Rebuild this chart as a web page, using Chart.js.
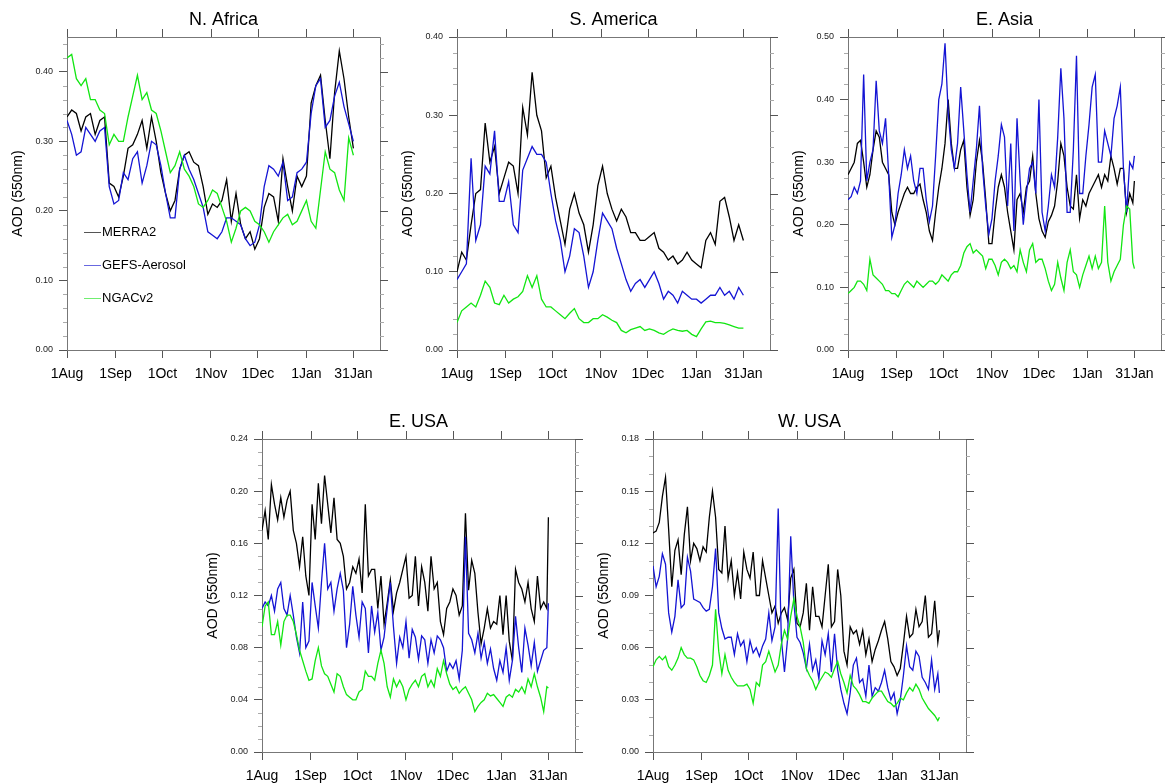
<!DOCTYPE html>
<html>
<head>
<meta charset="utf-8">
<script src="https://cdn.jsdelivr.net/npm/chart.js@4.4.1/dist/chart.umd.min.js"></script>
<style>
  html, body { margin: 0; padding: 0; background: #fff; overflow: hidden; }
  body { width: 1165px; height: 784px; position: relative; }
  canvas { position: absolute; }
</style>
</head>
<body>
<canvas id="naf" width="400" height="390" style="left:0px;top:0px"></canvas>
<canvas id="sam" width="400" height="390" style="left:390px;top:0px"></canvas>
<canvas id="eas" width="384" height="390" style="left:781px;top:0px"></canvas>
<canvas id="eus" width="400" height="382" style="left:195px;top:402px"></canvas>
<canvas id="wus" width="400" height="382" style="left:586px;top:402px"></canvas>
<script>
// x positions are days since 1 Aug
const days3 = [];
for (let d = 0; d <= 183; d += 3) days3.push(d);
const days2 = [];
for (let d = 0; d <= 182; d += 2) days2.push(d);
days2.push(183);

const monthDays = [0, 31, 61, 92, 122, 153, 183];
const monthLabels = ['1Aug', '1Sep', '1Oct', '1Nov', '1Dec', '1Jan', '31Jan'];
const seriesNames = ['MERRA2', 'GEFS-Aerosol', 'NGACv2'];
const seriesColors = ['#000000', '#1414d4', '#12e612'];
const legendColors = ['#555555', '#6868e0', '#70ee70'];

// N. Africa (every 3 days)
const nafMerra = [0.335, 0.345, 0.34, 0.315, 0.335, 0.34, 0.31, 0.33, 0.335, 0.24,
  0.235, 0.22, 0.25, 0.29, 0.295, 0.31, 0.33, 0.29, 0.335, 0.30,
  0.255, 0.225, 0.20, 0.215, 0.26, 0.28, 0.285, 0.27, 0.265, 0.235,
  0.195, 0.21, 0.205, 0.215, 0.245, 0.185, 0.225, 0.18, 0.16, 0.17,
  0.145, 0.16, 0.205, 0.225, 0.22, 0.185, 0.275, 0.235, 0.20, 0.25,
  0.235, 0.25, 0.355, 0.38, 0.395, 0.33, 0.275, 0.37, 0.43, 0.39,
  0.335, 0.29];
const nafGefs = [0.33, 0.31, 0.28, 0.285, 0.32, 0.31, 0.30, 0.315, 0.32, 0.235,
  0.21, 0.215, 0.255, 0.245, 0.275, 0.285, 0.24, 0.265, 0.30, 0.295,
  0.265, 0.225, 0.19, 0.19, 0.26, 0.28, 0.26, 0.245, 0.225, 0.205,
  0.17, 0.165, 0.16, 0.17, 0.19, 0.19, 0.185, 0.18, 0.16, 0.15,
  0.155, 0.18, 0.235, 0.265, 0.26, 0.25, 0.27, 0.215, 0.22, 0.255,
  0.26, 0.27, 0.34, 0.38, 0.39, 0.32, 0.33, 0.365, 0.385, 0.35,
  0.325, 0.30];
const nafNgac = [0.42, 0.425, 0.39, 0.38, 0.39, 0.36, 0.36, 0.345, 0.34, 0.295,
  0.31, 0.30, 0.30, 0.335, 0.365, 0.395, 0.36, 0.37, 0.345, 0.34,
  0.315, 0.285, 0.255, 0.265, 0.285, 0.26, 0.25, 0.235, 0.21, 0.205,
  0.215, 0.23, 0.225, 0.205, 0.185, 0.155, 0.175, 0.20, 0.205, 0.20,
  0.185, 0.18, 0.17, 0.155, 0.17, 0.18, 0.19, 0.195, 0.18, 0.185,
  0.20, 0.215, 0.185, 0.175, 0.23, 0.285, 0.26, 0.255, 0.23, 0.215,
  0.305, 0.28];

// S. America (every 3 days)
const samMerra = [0.10, 0.125, 0.115, 0.16, 0.20, 0.205, 0.29, 0.24, 0.26, 0.20,
  0.22, 0.24, 0.235, 0.20, 0.31, 0.275, 0.355, 0.30, 0.28, 0.22,
  0.235, 0.195, 0.165, 0.135, 0.18, 0.20, 0.175, 0.16, 0.125, 0.16,
  0.21, 0.235, 0.20, 0.18, 0.165, 0.18, 0.17, 0.15, 0.15, 0.14,
  0.14, 0.145, 0.15, 0.13, 0.125, 0.115, 0.12, 0.11, 0.115, 0.125,
  0.115, 0.11, 0.105, 0.14, 0.15, 0.135, 0.19, 0.195, 0.17, 0.14,
  0.16, 0.14];
const samGefs = [0.09, 0.10, 0.11, 0.245, 0.14, 0.16, 0.235, 0.225, 0.28, 0.19,
  0.19, 0.215, 0.16, 0.15, 0.23, 0.245, 0.26, 0.25, 0.25, 0.24,
  0.20, 0.165, 0.14, 0.10, 0.12, 0.155, 0.15, 0.12, 0.08, 0.10,
  0.14, 0.175, 0.165, 0.155, 0.13, 0.11, 0.09, 0.075, 0.085, 0.09,
  0.08, 0.09, 0.10, 0.085, 0.065, 0.075, 0.07, 0.06, 0.075, 0.07,
  0.065, 0.065, 0.06, 0.065, 0.07, 0.07, 0.08, 0.07, 0.075, 0.065,
  0.08, 0.07];
const samNgac = [0.035, 0.05, 0.055, 0.06, 0.055, 0.07, 0.088, 0.08, 0.06, 0.058,
  0.07, 0.06, 0.065, 0.068, 0.075, 0.095, 0.08, 0.095, 0.065, 0.055,
  0.055, 0.05, 0.045, 0.04, 0.047, 0.053, 0.04, 0.035, 0.035, 0.04,
  0.04, 0.045, 0.042, 0.038, 0.035, 0.025, 0.022, 0.026, 0.028, 0.03,
  0.025, 0.027, 0.025, 0.022, 0.02, 0.024, 0.027, 0.025, 0.024, 0.025,
  0.02, 0.017, 0.027, 0.036, 0.037, 0.035, 0.035, 0.034, 0.032, 0.03,
  0.028, 0.028];

// E. Asia (every 2 days)
const easMerra = [0.28, 0.29, 0.30, 0.33, 0.335, 0.30, 0.26, 0.28, 0.32, 0.35,
  0.34, 0.30, 0.29, 0.28, 0.22, 0.20, 0.22, 0.235, 0.25, 0.26,
  0.25, 0.25, 0.26, 0.265, 0.24, 0.22, 0.19, 0.175, 0.22, 0.26,
  0.29, 0.33, 0.40, 0.33, 0.29, 0.29, 0.32, 0.335, 0.26, 0.215,
  0.24, 0.30, 0.335, 0.30, 0.24, 0.17, 0.17, 0.22, 0.26, 0.28,
  0.26, 0.22, 0.19, 0.16, 0.24, 0.25, 0.22, 0.26, 0.27, 0.31,
  0.25, 0.21, 0.19, 0.18, 0.205, 0.215, 0.23, 0.27, 0.33, 0.31,
  0.26, 0.23, 0.225, 0.28, 0.21, 0.24, 0.23, 0.25, 0.26, 0.27,
  0.28, 0.26, 0.28, 0.27, 0.31, 0.29, 0.265, 0.29, 0.29, 0.22,
  0.25, 0.235, 0.27];
const easGefs = [0.24, 0.245, 0.26, 0.25, 0.27, 0.44, 0.27, 0.30, 0.32, 0.43,
  0.35, 0.33, 0.37, 0.28, 0.18, 0.20, 0.25, 0.28, 0.32, 0.29,
  0.31, 0.27, 0.25, 0.29, 0.29, 0.24, 0.205, 0.23, 0.31, 0.40,
  0.425, 0.49, 0.38, 0.32, 0.29, 0.33, 0.42, 0.35, 0.28, 0.22,
  0.27, 0.32, 0.39, 0.29, 0.23, 0.185, 0.21, 0.27, 0.31, 0.36,
  0.34, 0.23, 0.33, 0.19, 0.37, 0.27, 0.20, 0.25, 0.29, 0.30,
  0.25, 0.40, 0.22, 0.19, 0.23, 0.28, 0.26, 0.34, 0.45, 0.37,
  0.22, 0.22, 0.32, 0.47, 0.25, 0.25, 0.31, 0.36, 0.42, 0.44,
  0.30, 0.30, 0.35, 0.33, 0.31, 0.37, 0.39, 0.42, 0.29, 0.22,
  0.30, 0.29, 0.31];
const easNgac = [0.09, 0.095, 0.10, 0.11, 0.11, 0.105, 0.095, 0.145, 0.12, 0.115,
  0.11, 0.105, 0.095, 0.095, 0.09, 0.09, 0.085, 0.095, 0.105, 0.11,
  0.105, 0.10, 0.11, 0.105, 0.10, 0.105, 0.11, 0.11, 0.105, 0.11,
  0.12, 0.115, 0.11, 0.12, 0.125, 0.125, 0.135, 0.155, 0.165, 0.17,
  0.155, 0.16, 0.155, 0.15, 0.13, 0.145, 0.145, 0.135, 0.12, 0.14,
  0.145, 0.14, 0.13, 0.135, 0.125, 0.16, 0.14, 0.125, 0.16, 0.17,
  0.14, 0.145, 0.145, 0.13, 0.11, 0.095, 0.105, 0.14, 0.115, 0.095,
  0.14, 0.16, 0.125, 0.12, 0.10, 0.12, 0.135, 0.15, 0.13, 0.15,
  0.13, 0.14, 0.23, 0.14, 0.11, 0.125, 0.135, 0.145, 0.20, 0.23,
  0.225, 0.14, 0.13];

// E. USA (every 2 days)
const eusMerra = [0.17, 0.185, 0.163, 0.205, 0.19, 0.178, 0.195, 0.18, 0.193, 0.20,
  0.17, 0.16, 0.142, 0.165, 0.135, 0.12, 0.19, 0.163, 0.206, 0.175,
  0.212, 0.19, 0.168, 0.195, 0.163, 0.16, 0.15, 0.125, 0.13, 0.142,
  0.137, 0.148, 0.122, 0.19, 0.135, 0.14, 0.14, 0.11, 0.135, 0.098,
  0.114, 0.132, 0.108, 0.122, 0.13, 0.14, 0.15, 0.118, 0.12, 0.15,
  0.112, 0.142, 0.13, 0.108, 0.15, 0.125, 0.13, 0.10, 0.09, 0.11,
  0.115, 0.125, 0.12, 0.105, 0.112, 0.183, 0.124, 0.147, 0.137, 0.107,
  0.083, 0.095, 0.11, 0.095, 0.10, 0.098, 0.12, 0.09, 0.12, 0.085,
  0.07, 0.14, 0.13, 0.125, 0.115, 0.13, 0.11, 0.10, 0.135, 0.11,
  0.115, 0.11, 0.18];
const eusGefs = [0.11, 0.115, 0.112, 0.12, 0.108, 0.125, 0.13, 0.11, 0.105, 0.12,
  0.105, 0.088, 0.076, 0.115, 0.08, 0.085, 0.13, 0.112, 0.095, 0.13,
  0.16, 0.125, 0.13, 0.108, 0.125, 0.137, 0.124, 0.08, 0.098, 0.127,
  0.105, 0.088, 0.115, 0.11, 0.076, 0.112, 0.092, 0.107, 0.078, 0.088,
  0.11, 0.13, 0.096, 0.068, 0.088, 0.08, 0.10, 0.072, 0.094, 0.088,
  0.071, 0.089, 0.086, 0.068, 0.086, 0.076, 0.089, 0.086, 0.08, 0.062,
  0.068, 0.064, 0.07, 0.056, 0.078, 0.165, 0.091, 0.086, 0.076, 0.091,
  0.072, 0.084, 0.068, 0.079, 0.064, 0.055, 0.07, 0.061, 0.08, 0.055,
  0.07, 0.104, 0.08, 0.061, 0.095, 0.082, 0.066, 0.084, 0.062, 0.07,
  0.078, 0.08, 0.114];
const eusNgac = [0.096, 0.112, 0.115, 0.09, 0.09, 0.10, 0.082, 0.10, 0.105, 0.105,
  0.10, 0.09, 0.078, 0.07, 0.062, 0.055, 0.056, 0.07, 0.08, 0.066,
  0.06, 0.058, 0.052, 0.046, 0.06, 0.058, 0.05, 0.044, 0.042, 0.04,
  0.04, 0.046, 0.048, 0.062, 0.058, 0.058, 0.055, 0.068, 0.078, 0.068,
  0.05, 0.042, 0.056, 0.05, 0.055, 0.05, 0.04, 0.048, 0.052, 0.055,
  0.05, 0.058, 0.06, 0.05, 0.055, 0.05, 0.064, 0.058, 0.07, 0.06,
  0.052, 0.048, 0.05, 0.045, 0.048, 0.05, 0.045, 0.04, 0.031, 0.035,
  0.038, 0.04, 0.045, 0.043, 0.044, 0.041, 0.038, 0.035, 0.042, 0.044,
  0.042, 0.048, 0.046, 0.05, 0.045, 0.056, 0.05, 0.06, 0.05, 0.042,
  0.031, 0.05, 0.049];

// W. USA (every 2 days)
const wusMerra = [0.126, 0.127, 0.132, 0.147, 0.158, 0.128, 0.095, 0.116, 0.122, 0.102,
  0.125, 0.141, 0.11, 0.12, 0.117, 0.11, 0.118, 0.115, 0.135, 0.15,
  0.135, 0.105, 0.103, 0.13, 0.10, 0.11, 0.09, 0.103, 0.088, 0.115,
  0.105, 0.10, 0.115, 0.09, 0.09, 0.11, 0.10, 0.09, 0.08, 0.084,
  0.074, 0.08, 0.083, 0.076, 0.10, 0.105, 0.074, 0.072, 0.08, 0.097,
  0.07, 0.095, 0.078, 0.078, 0.072, 0.09, 0.108, 0.072, 0.075, 0.105,
  0.09, 0.058, 0.05, 0.072, 0.068, 0.07, 0.062, 0.07, 0.056, 0.065,
  0.052, 0.059, 0.064, 0.07, 0.075, 0.065, 0.052, 0.049, 0.044, 0.048,
  0.062, 0.078, 0.066, 0.068, 0.082, 0.072, 0.075, 0.09, 0.066, 0.068,
  0.087, 0.063, 0.07];
const wusGefs = [0.107, 0.095, 0.101, 0.114, 0.108, 0.08, 0.069, 0.078, 0.099, 0.083,
  0.085, 0.112, 0.104, 0.088, 0.087, 0.086, 0.083, 0.081, 0.082, 0.095,
  0.117, 0.08, 0.071, 0.065, 0.066, 0.066, 0.056, 0.068, 0.061, 0.064,
  0.052, 0.064, 0.057, 0.06, 0.055, 0.061, 0.065, 0.08, 0.064, 0.072,
  0.14, 0.065, 0.046, 0.065, 0.124, 0.086, 0.066, 0.063, 0.057, 0.048,
  0.062, 0.047, 0.053, 0.042, 0.064, 0.056, 0.068, 0.046, 0.068, 0.047,
  0.036, 0.028, 0.022, 0.034, 0.05, 0.054, 0.04, 0.042, 0.032, 0.05,
  0.032, 0.037, 0.035, 0.04, 0.047, 0.037, 0.03, 0.034, 0.022, 0.03,
  0.044, 0.061, 0.049, 0.047, 0.058, 0.055, 0.043, 0.04, 0.036, 0.053,
  0.036, 0.045, 0.034];
const wusNgac = [0.049, 0.053, 0.055, 0.053, 0.055, 0.049, 0.047, 0.05, 0.054, 0.06,
  0.056, 0.054, 0.054, 0.053, 0.049, 0.044, 0.041, 0.04, 0.044, 0.05,
  0.082, 0.058, 0.045, 0.056, 0.047, 0.043, 0.04, 0.038, 0.038, 0.038,
  0.039, 0.036, 0.028, 0.04, 0.038, 0.05, 0.052, 0.058, 0.052, 0.046,
  0.05, 0.062, 0.07, 0.065, 0.078, 0.088, 0.078, 0.072, 0.063, 0.048,
  0.044, 0.041, 0.036, 0.04, 0.043, 0.046, 0.045, 0.043, 0.048, 0.052,
  0.045, 0.04, 0.034, 0.044, 0.038, 0.036, 0.033, 0.029, 0.029, 0.028,
  0.031, 0.033, 0.035, 0.035, 0.032, 0.029, 0.028, 0.026, 0.028, 0.031,
  0.03, 0.034, 0.037, 0.035, 0.039, 0.036, 0.031, 0.028, 0.025, 0.023,
  0.021, 0.018, 0.02];

// y tick labels per panel
const nafTicks = [0, 0.1, 0.2, 0.3, 0.4];
const samTicks = [0, 0.1, 0.2, 0.3, 0.4];
const easTicks = [0, 0.1, 0.2, 0.3, 0.4, 0.5];
const eusTicks = [0, 0.04, 0.08, 0.12, 0.16, 0.2, 0.24];
const wusTicks = [0, 0.03, 0.06, 0.09, 0.12, 0.15, 0.18];

const FONT = '"Liberation Sans", Arial, Helvetica, sans-serif';
Chart.defaults.font.family = FONT;

// box on top/right, mirrored major ticks, minor ticks on y
const panelFrame = {
  id: 'panelFrame',
  afterDraw(chart, args, opts) {
    const { ctx, chartArea: a, scales: { x, y } } = chart;
    const px = v => Math.round(v) + 0.5;
    ctx.save();
    ctx.lineWidth = 1;
    ctx.strokeStyle = '#777';
    ctx.beginPath();
    ctx.moveTo(px(a.left), px(a.top));
    ctx.lineTo(px(a.right), px(a.top));
    ctx.lineTo(px(a.right), px(a.bottom));
    ctx.stroke();

    ctx.strokeStyle = '#555';
    ctx.beginPath();
    x.ticks.forEach(t => {
      const p = px(x.getPixelForValue(t.value));
      ctx.moveTo(p, a.top);
      ctx.lineTo(p, a.top - 8);
    });
    y.ticks.forEach(t => {
      const p = px(y.getPixelForValue(t.value));
      ctx.moveTo(a.right, p);
      ctx.lineTo(a.right + 8, p);
    });
    ctx.stroke();

    ctx.strokeStyle = '#aaa';
    ctx.beginPath();
    const step = opts.minorStep;
    for (let i = 1; i * step < y.max - 1e-9; i++) {
      const v = i * step;
      if (y.ticks.some(t => Math.abs(t.value - v) < 1e-6)) continue;
      const p = px(y.getPixelForValue(v));
      ctx.moveTo(a.left - 4, p);
      ctx.lineTo(a.left, p);
      ctx.moveTo(a.right, p);
      ctx.lineTo(a.right + 4, p);
    }
    ctx.stroke();
    ctx.restore();
  }
};

// legend drawn inside the N. Africa panel
const insideLegend = {
  id: 'insideLegend',
  afterDraw(chart, args, opts) {
    const { ctx } = chart;
    ctx.save();
    ctx.font = '13px ' + FONT;
    ctx.textBaseline = 'middle';
    ctx.fillStyle = '#000';
    ctx.lineWidth = 1;
    chart.data.datasets.forEach((ds, i) => {
      const yy = Math.round(opts.rows[i]) + 0.5;
      ctx.strokeStyle = legendColors[i];
      ctx.beginPath();
      ctx.moveTo(opts.x0, yy);
      ctx.lineTo(opts.x1, yy);
      ctx.stroke();
      ctx.fillText(ds.label, opts.x1 + 1, yy);
    });
    ctx.restore();
  }
};

function makePanel(id, title, days, series, yMax, yTicks, minorStep, withLegend) {
  const canvas = document.getElementById(id);
  const xHeight = canvas.height - 37 - 313;
  const toPts = vals => days.map((d, i) => ({ x: d, y: vals[i] }));
  return new Chart(canvas, {
    type: 'line',
    data: {
      datasets: series.map((vals, i) => ({
        label: seriesNames[i],
        data: toPts(vals),
        borderColor: seriesColors[i],
        borderWidth: 1.3,
        pointRadius: 0,
        tension: 0,
        order: 3 - i
      }))
    },
    options: {
      responsive: false,
      animation: false,
      devicePixelRatio: 1,
      layout: { padding: { left: 0, top: 0, right: canvas.width - 380, bottom: 0 } },
      plugins: {
        legend: { display: false },
        tooltip: { enabled: false },
        title: {
          display: true, text: title, fullSize: false, color: '#000',
          font: { size: 18, weight: 'normal' },
          padding: { top: 9.7, bottom: 5.7 }
        },
        panelFrame: { minorStep: minorStep },
        insideLegend: { rows: [231.7, 265, 298.3], x0: 84, x1: 101 }
      },
      scales: {
        x: {
          type: 'linear', min: 0, max: 200,
          afterBuildTicks: s => { s.ticks = monthDays.map(v => ({ value: v })); },
          afterFit: s => { s.height = xHeight; },
          ticks: {
            autoSkip: false, maxRotation: 0, padding: 8, color: '#000',
            font: { size: 14 },
            callback: (v, i) => monthLabels[i]
          },
          grid: { drawOnChartArea: false, tickLength: 8, color: '#555' },
          border: { color: '#777' }
        },
        y: {
          min: 0, max: yMax,
          afterBuildTicks: s => { s.ticks = yTicks.map(v => ({ value: v })); },
          afterFit: s => { s.width = 67; },
          ticks: {
            padding: 6, color: '#222', font: { size: 9 },
            callback: v => v.toFixed(2)
          },
          grid: { drawOnChartArea: false, tickLength: 8, color: '#555' },
          border: { color: '#777' },
          title: {
            display: true, text: 'AOD (550nm)', color: '#000',
            font: { size: 14 }, padding: { top: 10, bottom: 0 }
          }
        }
      }
    },
    plugins: withLegend ? [panelFrame, insideLegend] : [panelFrame]
  });
}

makePanel('naf', 'N. Africa', days3, [nafMerra, nafGefs, nafNgac], 0.45, nafTicks, 0.02, true);
makePanel('sam', 'S. America', days3, [samMerra, samGefs, samNgac], 0.40, samTicks, 0.02, false);
makePanel('eas', 'E. Asia', days2, [easMerra, easGefs, easNgac], 0.50, easTicks, 0.025, false);
makePanel('eus', 'E. USA', days2, [eusMerra, eusGefs, eusNgac], 0.24, eusTicks, 0.01, false);
makePanel('wus', 'W. USA', days2, [wusMerra, wusGefs, wusNgac], 0.18, wusTicks, 0.01, false);
</script>
</body>
</html>
